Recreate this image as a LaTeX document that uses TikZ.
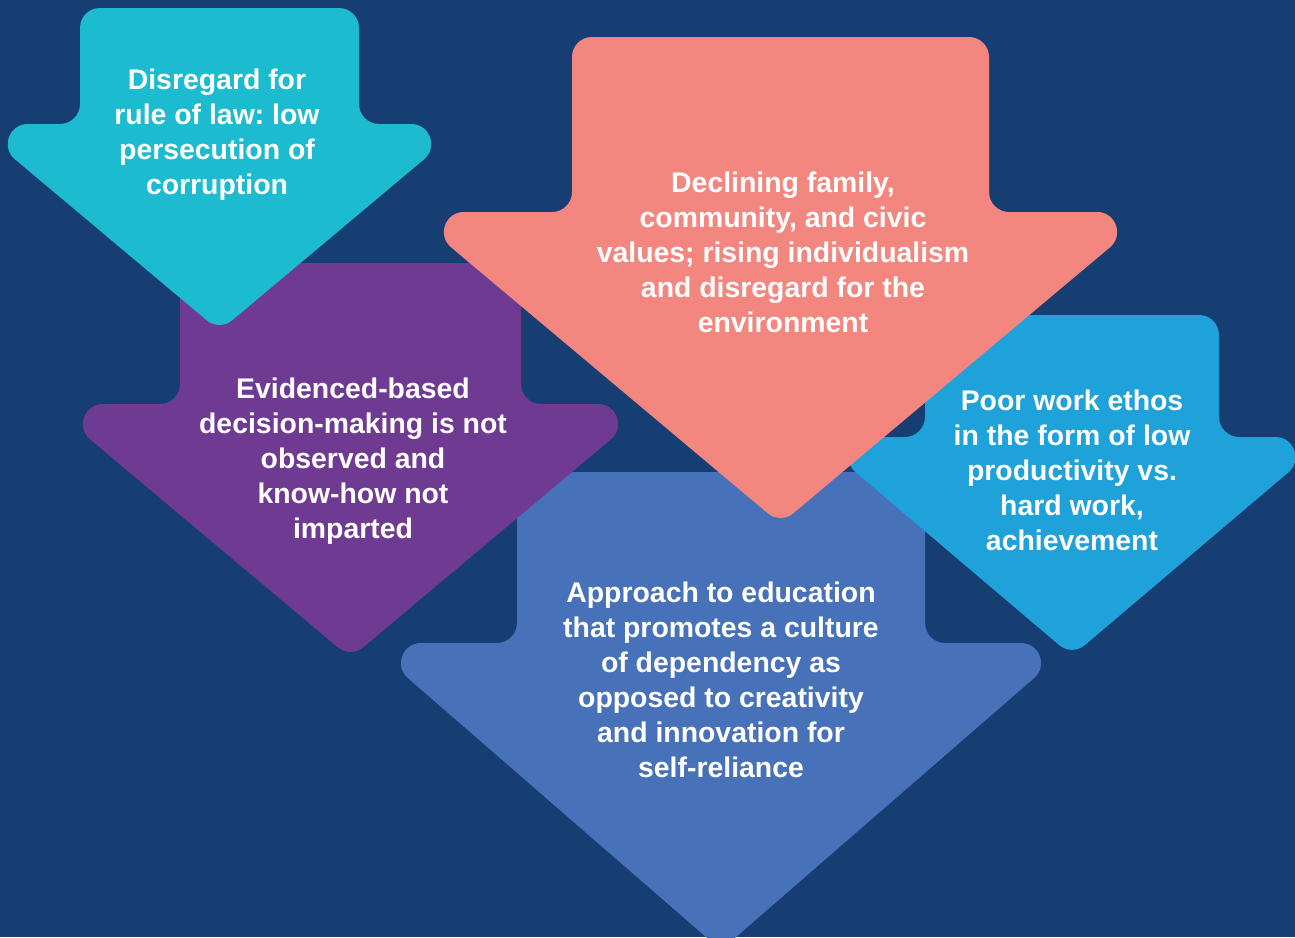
\documentclass[tikz,border=0pt]{standalone}
\usepackage{fontspec}
\setmainfont{Liberation Sans}
\frenchspacing
\definecolor{bgnavy}{HTML}{163E72}
\definecolor{acyan}{HTML}{1DBBD0}
\definecolor{apurple}{HTML}{6E3A92}
\definecolor{asalmon}{HTML}{F3877F}
\definecolor{alblue}{HTML}{1FA1DA}
\definecolor{amblue}{HTML}{4771B8}
% #1 colour, #2 centre x, #3 shaft half width, #4 top y, #5 wing y,
% #6 wing half width (sharp), #7 tip y (sharp), #8 corner radius
\newcommand{\downarrowshape}[8]{%
  \pgfmathsetmacro\aXl{#2-#3+#8}%
  \pgfmathsetmacro\aXr{#2+#3-#8}%
  \pgfmathsetmacro\aYt{#4+#8}%
  \pgfmathsetmacro\aYw{#5+#8}%
  \pgfmathsetmacro\aH{#7-#5}%
  \pgfmathsetmacro\aK{\aH/#6}%
  \pgfmathsetmacro\aQ{sqrt(1+\aK*\aK)}%
  \pgfmathsetmacro\aDx{#6-#8*((\aQ+1)/\aK)}%
  \pgfmathsetmacro\aWl{#2-\aDx}%
  \pgfmathsetmacro\aWr{#2+\aDx}%
  \pgfmathsetmacro\aTip{#7-#8*\aQ}%
  \pgfmathsetmacro\aLW{2*#8}%
  \pgfmathsetmacro\aSl{#2-#3}%
  \pgfmathsetmacro\aSr{#2+#3}%
  \pgfmathsetmacro\aWt{#5-#8}%
  \pgfmathsetmacro\aC{0.5523*#8}%
  \filldraw[fill=#1, draw=#1, line width=\aLW pt, line join=round]
    (\aXl,\aYt) -- (\aXr,\aYt) -- (\aXr,\aYw) -- (\aWr,\aYw) -- (#2,\aTip)
    -- (\aWl,\aYw) -- (\aXl,\aYw) -- cycle;
  \fill[#1] (\aSr,\aWt) .. controls (\aSr,\aWt+\aC) and (\aSr+#8-\aC,#5)
    .. (\aSr+#8,#5) -- (\aSr,#5) -- cycle;
  \fill[#1] (\aSl,\aWt) .. controls (\aSl,\aWt+\aC) and (\aSl-#8+\aC,#5)
    .. (\aSl-#8,#5) -- (\aSl,#5) -- cycle;
}
\begin{document}
\begin{tikzpicture}[x=1pt,y=-1pt,
  txt/.style={text=white, font=\fontsize{28.4}{35}\selectfont\bfseries,
    align=center, inner sep=0pt}]
\useasboundingbox (0,0) rectangle (1295,937);
\clip (0,0) rectangle (1295,937);
\fill[bgnavy] (0,0) rectangle (1295,937);
% medium blue (bottom layer)
\downarrowshape{amblue}{721}{204}{472}{643}{353.5}{950}{20}
\node[txt] (t5) at (721,680.2) {Approach to education\\that promotes a culture\\of dependency as\\opposed to creativity\\and innovation for\\self-reliance};
% purple
\downarrowshape{apurple}{350.5}{170.5}{263}{404}{302.5}{658}{20}
\node[txt] (t2) at (353,461) {Evidenced-based\\decision-making is not\\observed and\\know-how not\\imparted};
% light blue
\downarrowshape{alblue}{1072}{147}{315}{437}{258}{656}{20}
\node[txt] (t4) at (1072,470) {Poor work ethos\\in the form of low\\productivity vs.\\hard work,\\achievement};
% salmon
\downarrowshape{asalmon}{780.5}{208.5}{37}{212}{371.5}{524}{20}
\node[txt] (t3) at (783,252.7) {Declining family,\\community, and civic\\values; rising individualism\\and disregard for the\\environment};
% cyan (top layer)
\downarrowshape{acyan}{219.5}{139.5}{8}{124}{246.6}{331}{20}
\node[txt] (t1) at (217,134.5) {Disregard for\\rule of law: low\\persecution of\\corruption};
\end{tikzpicture}
\end{document}
